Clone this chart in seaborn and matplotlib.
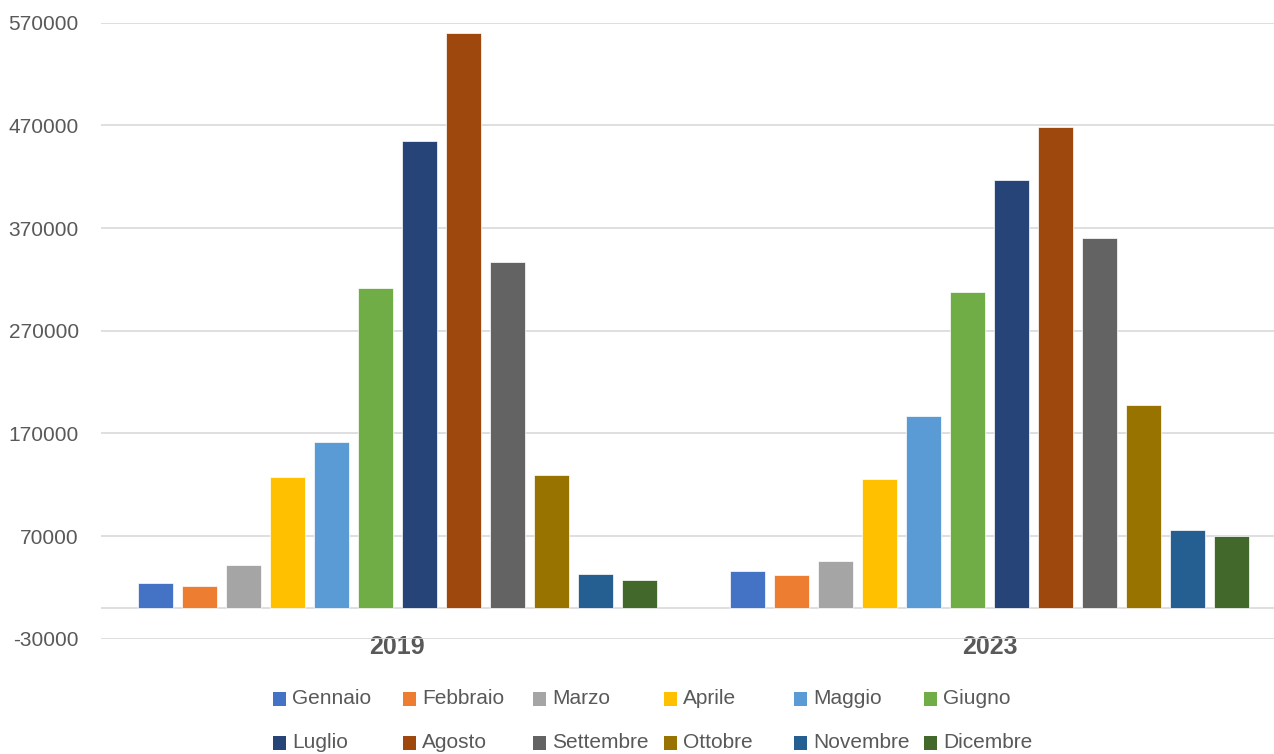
import matplotlib
matplotlib.use("Agg")
import matplotlib.pyplot as plt
from matplotlib.patches import Rectangle
import pandas as pd
import seaborn as sns

# --- data -------------------------------------------------------------
anni = ["2019", "2023"]
mesi = ["Gennaio", "Febbraio", "Marzo", "Aprile", "Maggio", "Giugno",
        "Luglio", "Agosto", "Settembre", "Ottobre", "Novembre", "Dicembre"]
valori_2019 = [24000, 21200, 41700, 127300, 161600, 311400,
               454500, 560300, 336500, 129400, 33000, 27600]
valori_2023 = [36300, 31700, 45600, 125600, 186900, 307500,
               416900, 468600, 360300, 197600, 75400, 69900]
colori = ["#4472C4", "#ED7D31", "#A5A5A5", "#FFC000", "#5B9BD5", "#70AD47",
          "#264478", "#9E480E", "#636363", "#997300", "#255E91", "#43682B"]
yticks = [-30000, 70000, 170000, 270000, 370000, 470000, 570000]

df = pd.DataFrame({
    "Anno": [a for a in anni for _ in mesi],
    "Mese": mesi * len(anni),
    "Valore": valori_2019 + valori_2023,
})

# --- figure -----------------------------------------------------------
sns.set_style("white")
plt.rcParams["font.family"] = ["Liberation Sans", "DejaVu Sans"]
TXT = "#595959"
GRID = "#D9D9D9"

W, H = 1274, 754
fig = plt.figure(figsize=(W / 100, H / 100), dpi=100)
# plot area: x 101..1286 px, y 22.7..638.7 px
ax = fig.add_axes([101 / W, 1 - 638.7 / H, 1185 / W, 616 / H])

sns.barplot(data=df, x="Anno", y="Valore", hue="Mese", hue_order=mesi,
            palette=colori, saturation=1, width=0.891, gap=0.2,
            errorbar=None, legend=False, edgecolor="white", linewidth=0.5,
            ax=ax)

ax.set_xlim(-0.5, 1.5)
ax.set_ylim(-30000, 570000)
ax.set_yticks(yticks)
ax.set_yticklabels([str(v) for v in yticks])
ax.set_xlabel("")
ax.set_ylabel("")
ax.set_axisbelow(True)
ax.yaxis.grid(True, color=GRID, linewidth=1.2)
ax.axhline(0, color=GRID, linewidth=1.2, zorder=0.5)
for s in ax.spines.values():
    s.set_visible(False)

ax.tick_params(axis="y", length=0, pad=16, labelsize=15, labelcolor=TXT)
ax.tick_params(axis="x", length=0, pad=-3, labelsize=18, labelcolor=TXT)
for lab in ax.get_xticklabels():
    lab.set_fontweight("bold")

# --- legend: two rows of six evenly spaced entries ---------------------
x0, dx = 273, 130.2
rows_y = [699, 743]
for i, (mese, col) in enumerate(zip(mesi, colori)):
    r, c = divmod(i, 6)
    xm = x0 + c * dx
    yc = rows_y[r]
    fig.add_artist(Rectangle((xm / W, 1 - (yc + 7) / H), 13 / W, 14 / H,
                             transform=fig.transFigure, facecolor=col,
                             edgecolor="none"))
    fig.text((xm + 19) / W, 1 - yc / H, mese, fontsize=15, color=TXT,
             ha="left", va="center")

fig.savefig("out.png", dpi=100)
